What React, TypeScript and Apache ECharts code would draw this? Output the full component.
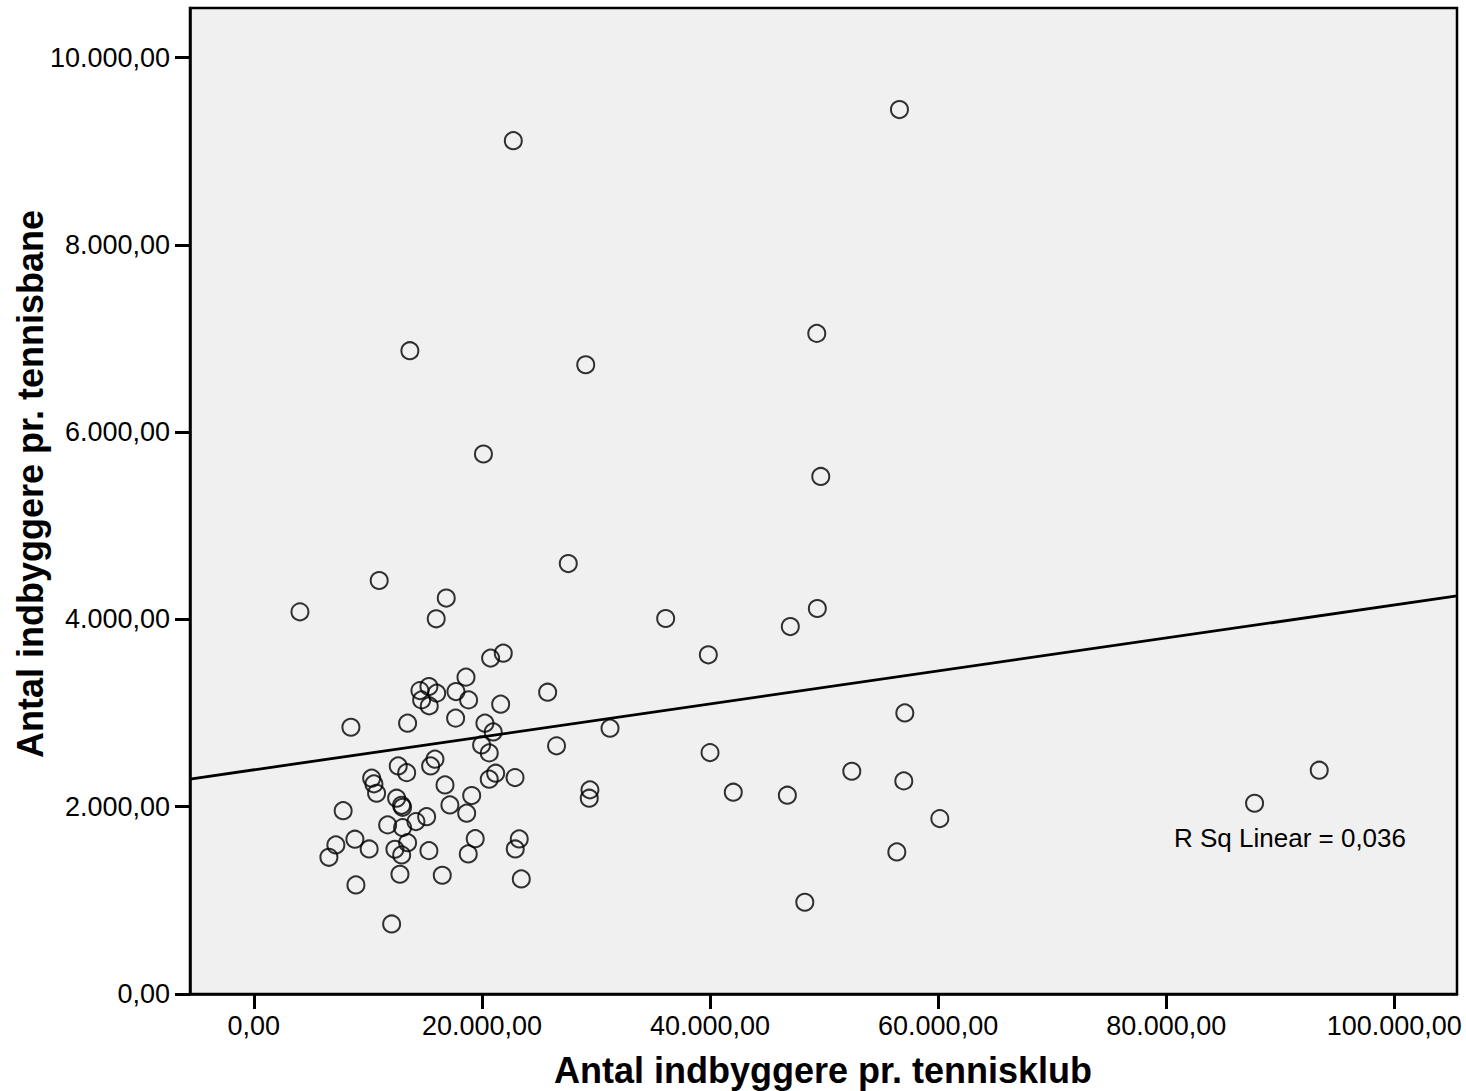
import React, { useEffect, useRef } from "react";
import * as echarts from "echarts";

// Antal indbyggere pr. tennisklub (x) and pr. tennisbane (y)
const clubPop = [
  21870, 20760, 18600, 14560, 15350, 16030, 17720, 14710, 15380, 18830,
  21640, 25760, 8510, 13480, 17690, 20260, 20990, 19970, 20640, 26540,
  12660, 13400, 15880, 15500, 10330, 10530, 10760, 21200, 20640, 22900,
  16760, 19100, 12520, 12950, 13040, 17190, 18660, 7830, 11730, 13040,
  14210, 15150, 7190, 6580, 8860, 10110, 12370, 12960, 13480, 15350,
  19410, 18800, 23270, 22920, 12810, 16520, 23450, 8950, 12080, 13680,
  29100, 20130, 27570, 10990, 4040, 16870, 15990, 36110, 39850, 47040,
  49410, 57080, 31230, 40000, 52430, 56990, 29470, 29410, 42040, 46780,
  60150, 56380, 48310, 22750, 56610, 49360, 49710, 93420, 87750,
];
const courtPop = [
  3640, 3587, 3384, 3240, 3283, 3213, 3230, 3141, 3077, 3141,
  3095, 3223, 2849, 2892, 2946, 2892, 2799, 2660, 2575, 2650,
  2436, 2364, 2508, 2436, 2305, 2244, 2144, 2358, 2294, 2311,
  2233, 2119, 2091, 2015, 1994, 2019, 1931, 1958, 1806, 1777,
  1841, 1894, 1592, 1460, 1653, 1549, 1546, 1485, 1616, 1531,
  1659, 1496, 1656, 1549, 1279, 1268, 1229, 1165, 748, 6870,
  6720, 5767, 4597, 4416, 4081, 4228, 4007, 4010, 3622, 3924,
  4117, 3002, 2839, 2578, 2379, 2276, 2180, 2091, 2155, 2123,
  1873, 1517, 980, 9113, 9445, 7055, 5527, 2390, 2037,
];

const xTicks = [0, 20000, 40000, 60000, 80000, 100000];
const yTicks = [0, 2000, 4000, 6000, 8000, 10000];
const xRange = [-5600, 105500];
const yRange = [0, 10530];
const fitIntercept = 2394;
const fitSlope = 0.0176;
const rSqLabel = "R Sq Linear = 0,036";

const fmt = (v: number) => {
  const [i, d] = Math.abs(v).toFixed(2).split(".");
  return (v < 0 ? "-" : "") + i.replace(/\B(?=(\d{3})+(?!\d))/g, ".") + "," + d;
};

export default function App() {
  const ref = useRef<HTMLDivElement>(null);
  useEffect(() => {
    if (!ref.current) return;
    const chart = echarts.init(ref.current, null, { renderer: "svg" });
    const font = "'Liberation Sans', Arial, sans-serif";
    const pts = clubPop.map((x, i) => [x, courtPop[i]]);
    const fit = xRange.map((x) => [x, fitIntercept + fitSlope * x]);
    chart.setOption({
      animation: false,
      backgroundColor: "#ffffff",
      grid: {
        left: 190,
        right: 9,
        top: 8,
        bottom: 97,
        show: true,
        backgroundColor: "#f0f0f0",
        borderColor: "#000",
        borderWidth: 2.5,
      },
      xAxis: {
        type: "value",
        min: xRange[0],
        max: xRange[1],
        axisLine: { show: true, onZero: false, lineStyle: { color: "#000", width: 2.5 } },
        axisTick: { show: true, length: 15, customValues: xTicks, lineStyle: { color: "#000", width: 3 } },
        axisLabel: {
          customValues: xTicks,
          formatter: (v: number) => fmt(v),
          color: "#000",
          fontSize: 27,
          fontFamily: font,
          margin: 18,
        },
        splitLine: { show: false },
      },
      yAxis: {
        type: "value",
        min: yRange[0],
        max: yRange[1],
        axisLine: { show: true, onZero: false, lineStyle: { color: "#000", width: 2.5 } },
        axisTick: { show: true, length: 15, customValues: yTicks, lineStyle: { color: "#000", width: 3 } },
        axisLabel: {
          customValues: yTicks,
          formatter: (v: number) => fmt(v),
          color: "#000",
          fontSize: 27,
          fontFamily: font,
          margin: 20,
        },
        splitLine: { show: false },
      },
      series: [
        {
          type: "line",
          data: fit,
          symbol: "none",
          lineStyle: { color: "#000", width: 2.8 },
          z: 2,
        },
        {
          type: "scatter",
          data: pts,
          symbol: "circle",
          symbolSize: 17,
          itemStyle: { color: "rgba(0,0,0,0)", borderColor: "#000", borderWidth: 2 },
          z: 3,
        },
      ],
      graphic: [
        {
          type: "text",
          x: 1174,
          y: 838,
          style: { text: rSqLabel, fontSize: 26, fontFamily: font, fill: "#000", textVerticalAlign: "middle" },
        },
        {
          type: "text",
          x: 823,
          y: 1070,
          style: {
            text: "Antal indbyggere pr. tennisklub",
            fontSize: 36,
            fontWeight: "bold",
            fontFamily: font,
            fill: "#000",
            textAlign: "center",
            textVerticalAlign: "middle",
          },
        },
        {
          type: "text",
          x: 30,
          y: 484,
          rotation: Math.PI / 2,
          style: {
            text: "Antal indbyggere pr. tennisbane",
            fontSize: 36,
            fontWeight: "bold",
            fontFamily: font,
            fill: "#000",
            textAlign: "center",
            textVerticalAlign: "middle",
          },
        },
      ],
    });
    return () => chart.dispose();
  }, []);
  return (
    <div
      ref={ref}
      style={{ position: "fixed", left: 0, top: 0, width: 1466, height: 1091 }}
    />
  );
}
